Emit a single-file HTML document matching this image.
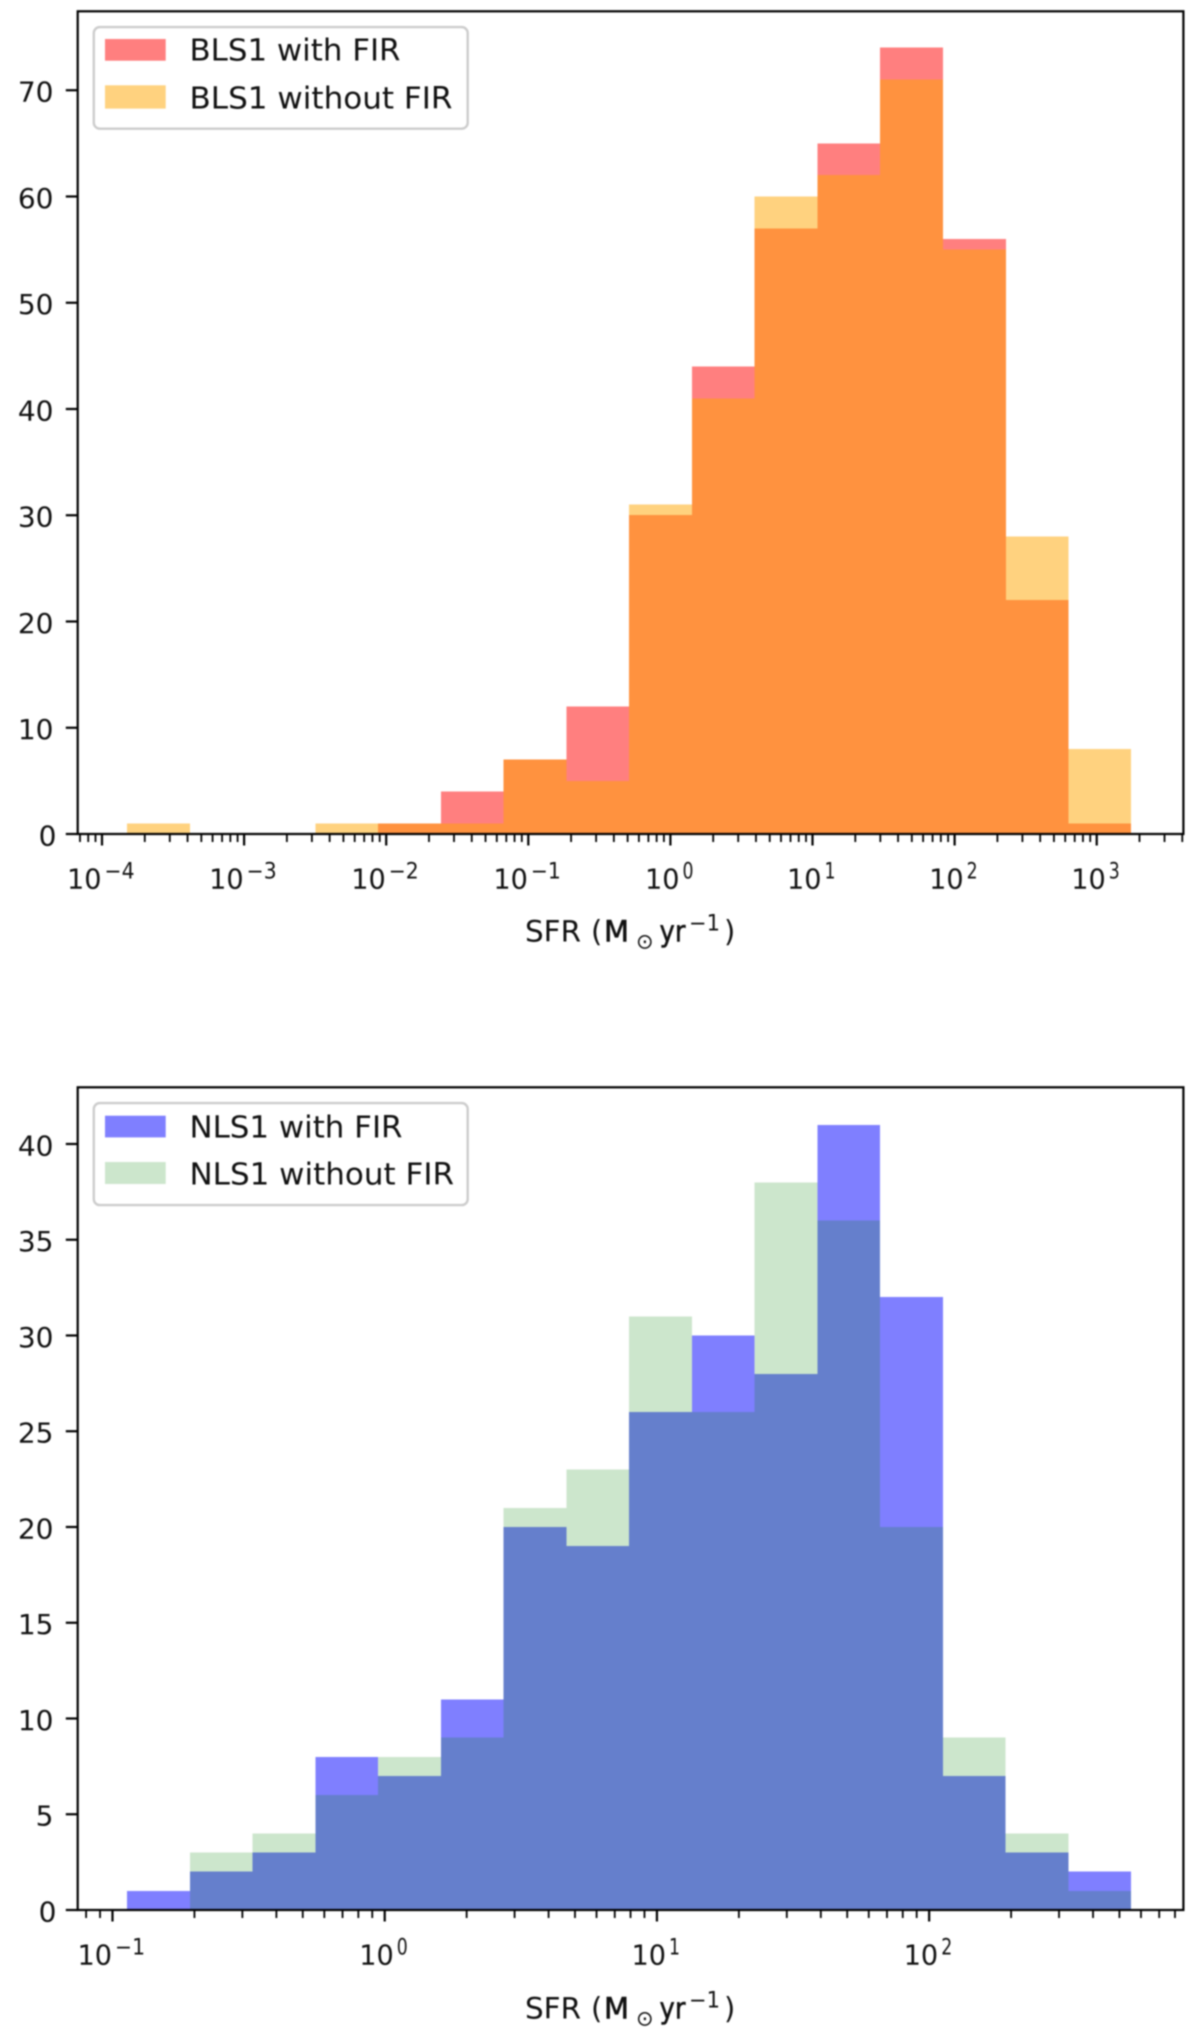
<!DOCTYPE html>
<html lang="en">
<head>
<meta charset="utf-8">
<title>SFR histograms for BLS1 and NLS1</title>
<style>
  html, body { margin: 0; padding: 0; background: #fff; }
  #figure { display: block; width: 1200px; height: 2038px; filter: blur(0.7px); }
  text { font-family: "DejaVu Sans", "Liberation Sans", sans-serif; fill: #111; }
</style>
</head>
<body>
<svg id="figure" xmlns="http://www.w3.org/2000/svg" width="1200" height="2038" viewBox="0 0 1200 2038"></svg>
<script>
// ---- Data ----
const blsLogBinEdges = [-3.824, -3.382, -2.941, -2.499, -2.057, -1.616, -1.174, -0.732, -0.291, 0.151, 0.593, 1.035, 1.476, 1.918, 2.360, 2.801, 3.243];
const blsWithFir = [0, 0, 0, 0, 1, 4, 7, 12, 30, 44, 57, 65, 74, 56, 22, 1];
const blsWithoutFir = [1, 0, 0, 1, 1, 1, 7, 5, 31, 41, 60, 62, 71, 55, 28, 8];
const blsYTicks = [0, 10, 20, 30, 40, 50, 60, 70];
const blsXDecades = [-4, -3, -2, -1, 0, 1, 2, 3];

const nlsLogBinEdges = [-0.9465, -0.716, -0.4855, -0.255, -0.0245, 0.206, 0.4365, 0.667, 0.8975, 1.128, 1.358, 1.589, 1.819, 2.05, 2.28, 2.511, 2.742];
const nlsWithFir = [1, 2, 3, 8, 7, 11, 20, 19, 26, 30, 28, 41, 32, 7, 3, 2];
const nlsWithoutFir = [0, 3, 4, 6, 8, 9, 21, 23, 31, 26, 38, 36, 20, 9, 4, 1];
const nlsYTicks = [0, 5, 10, 15, 20, 25, 30, 35, 40];
const nlsXDecades = [-1, 0, 1, 2];

const minorMultipliers = [2, 3, 4, 5, 6, 7, 8, 9];

const SVG_NS = 'http://www.w3.org/2000/svg';
const svg = document.getElementById('figure');

function el(tag, attrs, parent) {
  const node = document.createElementNS(SVG_NS, tag);
  for (const k in attrs) node.setAttribute(k, attrs[k]);
  (parent || svg).appendChild(node);
  return node;
}

function drawPanel(cfg) {
  const panel = el('g', {});
  
  

  const L = 77.7, R = 1183.4, T = cfg.top, B = cfg.bottom;
  const xScale = lg => L + (lg - cfg.xMin) / (cfg.xMax - cfg.xMin) * (R - L);
  const yScale = v => B - v / cfg.yMax * (B - T);

  // background
  const bg = el('rect', { x: L, y: T, width: R - L, height: B - T, fill: '#fff' }, panel);
  
  

  // bars
  cfg.series.forEach(s => {
    const g = el('g', {}, panel);
    
    
    s.values.forEach((v, i) => {
      if (v <= 0) return;
      const x0 = xScale(cfg.edges[i]), x1 = xScale(cfg.edges[i + 1]);
      const bar = el('rect', {
        x: x0, y: yScale(v), width: x1 - x0, height: yScale(0) - yScale(v),
        fill: s.color, 'fill-opacity': s.alpha, 'shape-rendering': 'crispEdges'
      }, g);
      
      
    });
  });

  // y ticks
  cfg.yTicks.forEach(v => {
    const y = yScale(v);
    const t = el('line', { x1: 65.8, x2: L, y1: y, y2: y, stroke: '#000', 'stroke-width': 2.2 }, panel);
    
    
    const lab = el('text', { x: v === 0 ? 56.5 : 53.5, y: y + 11.5, 'font-size': 28, 'text-anchor': 'end' }, panel);
    lab.textContent = String(v);
    
    
  });

  // x ticks: major, minor and labels
  const firstDecade = Math.floor(cfg.xMin);
  const lastDecade = Math.ceil(cfg.xMax);
  for (let d = firstDecade; d <= lastDecade; d++) {
    minorMultipliers.forEach(m => {
      const lg = d + Math.log10(m);
      if (lg < cfg.xMin || lg > cfg.xMax) return;
      const x = xScale(lg);
      const mt = el('line', { x1: x, x2: x, y1: B, y2: B + 8, stroke: '#000', 'stroke-width': 1.8 }, panel);
      
      
    });
  }
  cfg.xDecades.forEach(d => {
    const x = xScale(d);
    const t = el('line', { x1: x, x2: x, y1: B, y2: B + 11.5, stroke: '#000', 'stroke-width': 2.2 }, panel);
    
    

    const expStr = d < 0 ? '\u2212' + Math.abs(d) : String(d);
    const expW = d < 0 ? 30 : 11;
    const baseW = 33, gap = 3.5;
    const total = baseW + gap + expW;
    const startX = x - total / 2 - 0.7;
    const base = el('text', { x: startX - 1, y: B + 54.7, 'font-size': 28, textLength: baseW + 1.5, lengthAdjust: 'spacingAndGlyphs' }, panel);
    base.textContent = '10';
    
    
    const ex = el('text', { x: startX + baseW + gap, y: B + 44.3, 'font-size': 22, textLength: expW, lengthAdjust: 'spacingAndGlyphs' }, panel);
    ex.textContent = expStr;
    
    
  });

  // x axis title
  const titleY = B + cfg.titleOffset;
  const partS = el('text', { x: 525, y: titleY, 'font-size': 29, textLength: 56, lengthAdjust: 'spacingAndGlyphs' }, panel);
  partS.textContent = 'SFR';
  
  
  const partOpen = el('text', { x: 591, y: titleY, 'font-size': 29 }, panel);
  partOpen.textContent = '(';
  
  
  const partM = el('text', { x: 604, y: titleY, 'font-size': 29, stroke: '#111', 'stroke-width': 0.6 }, panel);
  partM.textContent = 'M';
  
  
  const partSun = el('text', { x: 636, y: titleY + 7, 'font-size': 21 }, panel);
  partSun.textContent = '\u2299';
  
  
  const partYr = el('text', { x: 659.5, y: titleY, 'font-size': 29, textLength: 26, lengthAdjust: 'spacingAndGlyphs', stroke: '#111', 'stroke-width': 0.5 }, panel);
  partYr.textContent = 'yr';
  
  
  const partExp = el('text', { x: 689, y: titleY - 11, 'font-size': 22, textLength: 31, lengthAdjust: 'spacingAndGlyphs' }, panel);
  partExp.textContent = '\u22121';
  
  
  const partClose = el('text', { x: 724, y: titleY, 'font-size': 29 }, panel);
  partClose.textContent = ')';
  
  

  // spines
  const frame = el('rect', { x: L, y: T, width: R - L, height: B - T, fill: 'none', stroke: '#000', 'stroke-width': 2.2 }, panel);
  
  

  // legend
  const legend = el('g', {}, panel);
  
  
  const lt = T + 15.8;
  const box = el('rect', { x: 93.8, y: lt, width: 373.9, height: cfg.legendHeight, rx: 6, ry: 6, fill: '#fff', 'fill-opacity': 0.9, stroke: '#ccc', 'stroke-width': 2.4 }, legend);
  
  
  cfg.series.forEach((s, i) => {
    const sw = el('rect', { x: 105, y: lt + cfg.swatchY[i], width: 60.7, height: cfg.swatchH[i], fill: s.color, 'fill-opacity': s.alpha }, legend);
    
    
    const tx = el('text', { x: 189.5, y: lt + cfg.textY[i], 'font-size': 30, textLength: s.labelWidth, lengthAdjust: 'spacingAndGlyphs' }, legend);
    tx.textContent = s.label;
    
    
  });
}

drawPanel({
  name: 'bls1',
  top: 11.3, bottom: 834,
  xMin: -4.171, xMax: 3.61, yMax: 77.43,
  edges: blsLogBinEdges,
  yTicks: blsYTicks,
  xDecades: blsXDecades,
  titleOffset: 107.7,
  legendHeight: 101.6,
  swatchY: [11.9, 58.2],
  swatchH: [21.7, 23.3],
  textY: [33.6, 81.2],
  series: [
    { key: 'bls1-with-fir', label: 'BLS1 with FIR', values: blsWithFir, color: '#ff0000', alpha: 0.5, labelWidth: 211 },
    { key: 'bls1-without-fir', label: 'BLS1 without FIR', values: blsWithoutFir, color: '#ffa500', alpha: 0.5, labelWidth: 263 }
  ]
});

drawPanel({
  name: 'nls1',
  top: 1087.3, bottom: 1910,
  xMin: -1.1278, xMax: 2.934, yMax: 42.96,
  edges: nlsLogBinEdges,
  yTicks: nlsYTicks,
  xDecades: nlsXDecades,
  titleOffset: 108.3,
  legendHeight: 102,
  swatchY: [12.6, 58.9],
  swatchH: [21.7, 22],
  textY: [34.2, 81.2],
  series: [
    { key: 'nls1-with-fir', label: 'NLS1 with FIR', values: nlsWithFir, color: '#0000ff', alpha: 0.5, labelWidth: 213 },
    { key: 'nls1-without-fir', label: 'NLS1 without FIR', values: nlsWithoutFir, color: '#008000', alpha: 0.2, labelWidth: 264.5 }
  ]
});
</script>
</body>
</html>
